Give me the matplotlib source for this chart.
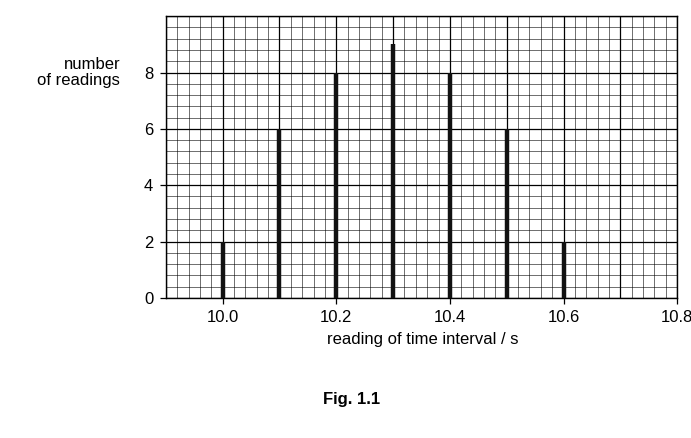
import numpy as np
import matplotlib
matplotlib.use("Agg")
import matplotlib.pyplot as plt

readings = [10.0, 10.1, 10.2, 10.3, 10.4, 10.5, 10.6]
counts = [2, 6, 8, 9, 8, 6, 2]
x_ticks = [10.0, 10.2, 10.4, 10.6, 10.8]
y_ticks = [0, 2, 4, 6, 8]

plt.rcParams["font.family"] = ["Liberation Sans", "DejaVu Sans"]

fig = plt.figure(figsize=(6.91, 4.38), dpi=100)
ax = fig.add_axes([0.240, 0.320, 0.740, 0.643])
ax.set_xlim(9.9, 10.8)
ax.set_ylim(0, 10)

# graph-paper grid: minor every 0.02 / 0.4, major every 0.1 / 2
for xv in np.arange(9.9, 10.8001, 0.02):
    ax.axvline(xv, color="black", lw=0.4, zorder=0)
for yv in np.arange(0, 10.001, 0.4):
    ax.axhline(yv, color="black", lw=0.4, zorder=0)
for xv in np.arange(9.9, 10.8001, 0.1):
    ax.axvline(xv, color="black", lw=0.9, zorder=0)
for yv in np.arange(0, 10.001, 2):
    ax.axhline(yv, color="black", lw=0.9, zorder=0)

ax.vlines(readings, 0, counts, color="#111111", lw=3.2, zorder=3)

ax.set_xticks(x_ticks)
ax.set_xticklabels([f"{v:.1f}" for v in x_ticks], fontsize=12)
ax.set_yticks(y_ticks)
ax.set_yticklabels([str(v) for v in y_ticks], fontsize=12)
ax.tick_params(length=4, width=0.9, pad=5)
for s in ax.spines.values():
    s.set_linewidth(1.0)

fig.text(0.174, 0.835, "number\nof readings", ha="right", va="center", fontsize=12, linespacing=1.1)
fig.text(0.612, 0.224, "reading of time interval / s", ha="center", va="center", fontsize=12)
fig.text(0.509, 0.087, "Fig. 1.1", ha="center", va="center", fontsize=12, fontweight="bold")

fig.savefig("out.png", dpi=100)
